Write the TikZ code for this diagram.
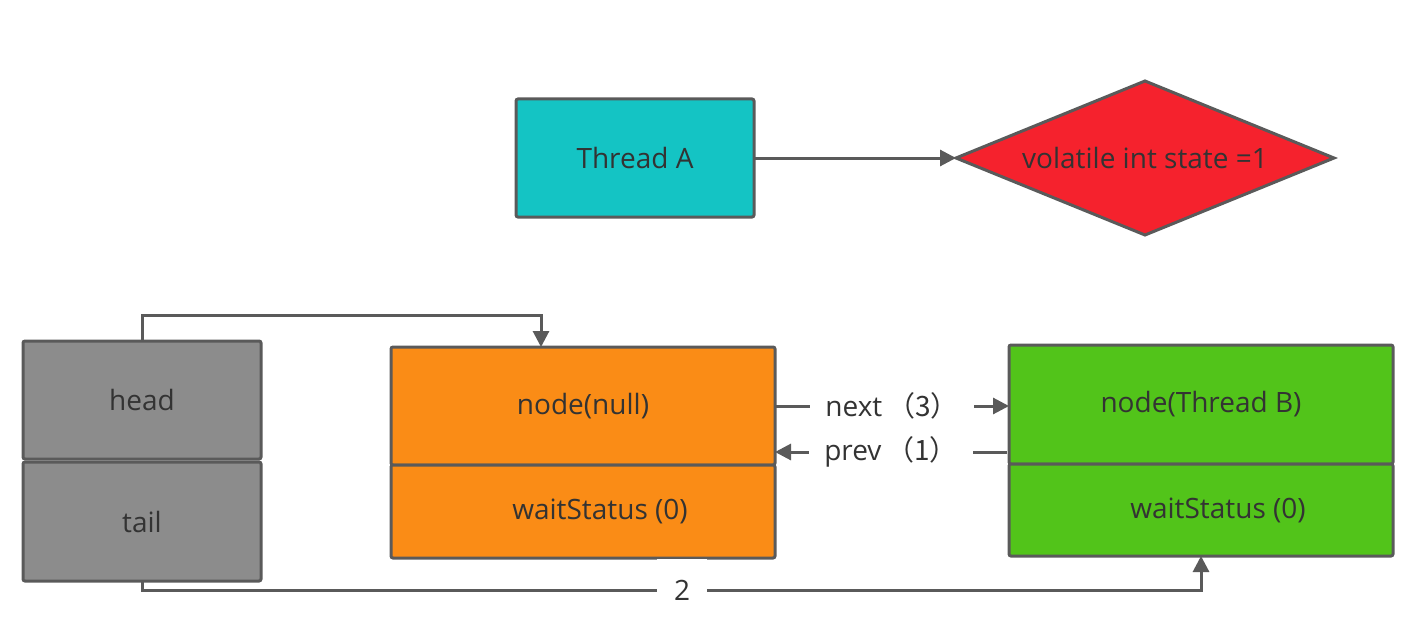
\documentclass[tikz,border=0pt]{standalone}
\usepackage{fontspec}
\setmainfont{Open Sans}
\newfontfamily\cjk{Noto Sans CJK SC}
\usetikzlibrary{shapes.geometric,arrows.meta,positioning,calc}
\definecolor{lineg}{HTML}{5A5A5A}
\definecolor{txtg}{HTML}{333333}
\definecolor{tcyan}{HTML}{14C4C4}
\definecolor{sred}{HTML}{F5222D}
\definecolor{qgray}{HTML}{8C8C8C}
\definecolor{norange}{HTML}{FA8C16}
\definecolor{ngreen}{HTML}{52C41A}
\tikzset{
  blk/.style={rectangle,rounded corners=1pt,draw=lineg,line width=1.5pt,
    fill=#1,text=txtg,font=\fontsize{14}{16}\selectfont,
    inner sep=0pt,outer sep=0pt},
  arr/.style={-{Triangle[length=8pt,width=8pt]},line width=1.5pt,draw=lineg},
  lbl/.style={fill=white,text=txtg,font=\fontsize{14}{16}\selectfont,
    inner sep=0pt,minimum height=18pt},
}

\begin{document}
\begin{tikzpicture}[x=0.5pt,y=-0.5pt,node distance=0pt]
  \useasboundingbox (0,0) rectangle (1401,626);

  % top row
  \node[blk=tcyan,minimum width=119pt,minimum height=59pt] (thra) at (635,158) {Thread A};
  \node[blk=sred,diamond,rounded corners=0pt,aspect=2.45,
    minimum width=189pt,minimum height=77pt] (state) at (1145,158) {volatile int state =1};

  % queue
  \node[blk=qgray,minimum width=119pt,minimum height=59pt] (head) at (142,400) {head};
  \node[blk=qgray,minimum width=119pt,minimum height=59.5pt,below=1.5pt of head] (tail) {tail};

  \node[blk=norange,minimum width=192pt,minimum height=59pt] (nnull) at (583,406) {node(null)};
  \node[blk=norange,minimum width=192pt,minimum height=46.5pt,below=of nnull] (nwait) {\hspace{17pt}waitStatus (0)};

  \node[blk=ngreen,minimum width=192pt,minimum height=59.5pt] (nthb) at (1201,404.5) {node(Thread B)};
  \node[blk=ngreen,minimum width=192pt,minimum height=46pt,below=of nthb] (bwait) {\hspace{17pt}waitStatus (0)};

  \coordinate (low) at (682,590);
  \coordinate (pv) at (1007,452);

  \draw[arr] (thra.east) -- (state.west);
  \draw[arr] (head.north) -- ++(0,-26) -| ($(nnull.north)+(-42,0)$);
  \draw[arr] (tail.south) |- (low)
    node[lbl,minimum width=25pt,minimum height=31.5pt] {2} -| (bwait.south);
  \draw[arr] (nnull.east) -- node[lbl,minimum width=82pt] {next\,{\cjk（3）}} (nnull.east -| nthb.west);
  \draw[arr] (pv) -- node[lbl,minimum width=82pt] {prev\,{\cjk（1）}} (nnull.east |- pv);
\end{tikzpicture}
\end{document}
